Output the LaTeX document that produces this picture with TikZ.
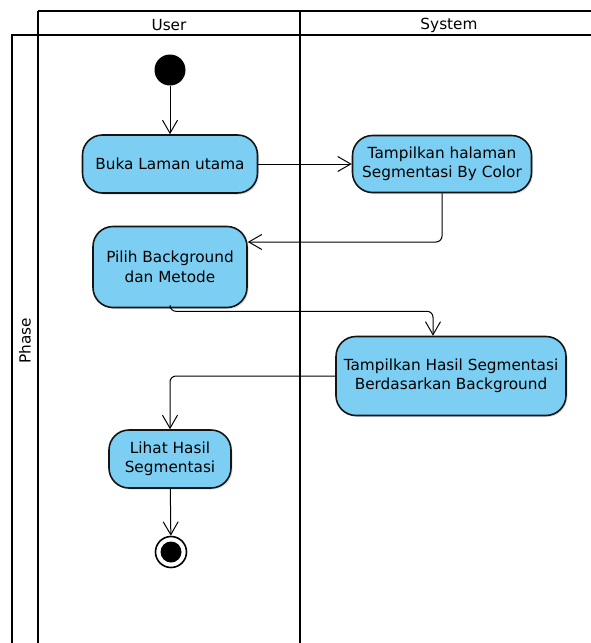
\documentclass[tikz,border=0pt]{standalone}
\usepackage{fontspec}
\setmainfont{DejaVu Sans}
\usetikzlibrary{arrows.meta, positioning, shadows}
\definecolor{actblue}{RGB}{124, 207, 242}
\definecolor{actline}{RGB}{20, 20, 20}

\begin{document}
\begin{tikzpicture}[x=1pt, y=-1pt, every node/.style={font=\fontsize{15.3}{19.5}\selectfont},
  act/.style={rounded corners=20pt, draw=actline, line width=1.6pt, fill=actblue,
              align=center, drop shadow={opacity=0.25, shadow xshift=1.5pt, shadow yshift=-1.5pt}},
  flow/.style={->, >={Straight Barb[length=13pt, width=15pt]}, line width=1pt, rounded corners=6pt},
  lane/.style={line width=2.2pt, black}]
  \useasboundingbox (0,0) rectangle (591,643);

  % Swimlanes
  \draw[lane] (38,11) -- (591,11);
  \draw[lane] (12,643) -- (12,35) -- (591,35);
  \draw[lane] (38,11) -- (38,643);
  \draw[lane] (300,11) -- (300,643);
  \node (user) at (169,25.5) {User};
  \node (system) at (449,25.5) {System};
  \node[rotate=90] (phase) at (25,341) {Phase};

  % Start
  \node[circle, fill=black, minimum size=31pt, inner sep=0pt] (start) at (170,70) {};
  % Box 1
  \node[act, minimum width=175pt, minimum height=58pt] (b1) at (170,164)
    {Buka Laman utama};
  % Box 2
  \node[act, minimum width=179pt, minimum height=57pt] (b2) at (442,164)
    {Tampilkan halaman\\Segmentasi By Color};
  % Box 3
  \node[act, minimum width=154pt, minimum height=81pt] (b3) at (170,267)
    {Pilih Background\\dan Metode};
  % Box 4
  \node[act, minimum width=230pt, minimum height=79pt] (b4) at (451,376)
    {Tampilkan Hasil Segmentasi\\Berdasarkan Background};
  % Box 5
  \node[act, minimum width=122pt, minimum height=58pt] (b5) at (170,459)
    {Lihat Hasil\\Segmentasi};
  % End
  \node[circle, draw=black, line width=1.6pt, minimum size=31pt, inner sep=0pt] (end) at (171,552) {};
  \node[circle, fill=black, minimum size=21pt, inner sep=0pt] (endin) at (end) {};

  % Arrows between boxes
  \draw[flow] (start) -- (b1);
  \draw[flow] (b1) -- (b2);
  \draw[flow] (b2.south) |- ([yshift=25pt]b3.east);
  \draw[flow] (b3.south) -- ++(0,3) -| ([xshift=-18pt]b4.north);
  \draw[flow] (b4.west) -| (b5.north);
  \draw[flow] (b5) -- (end);
\end{tikzpicture}
\end{document}
